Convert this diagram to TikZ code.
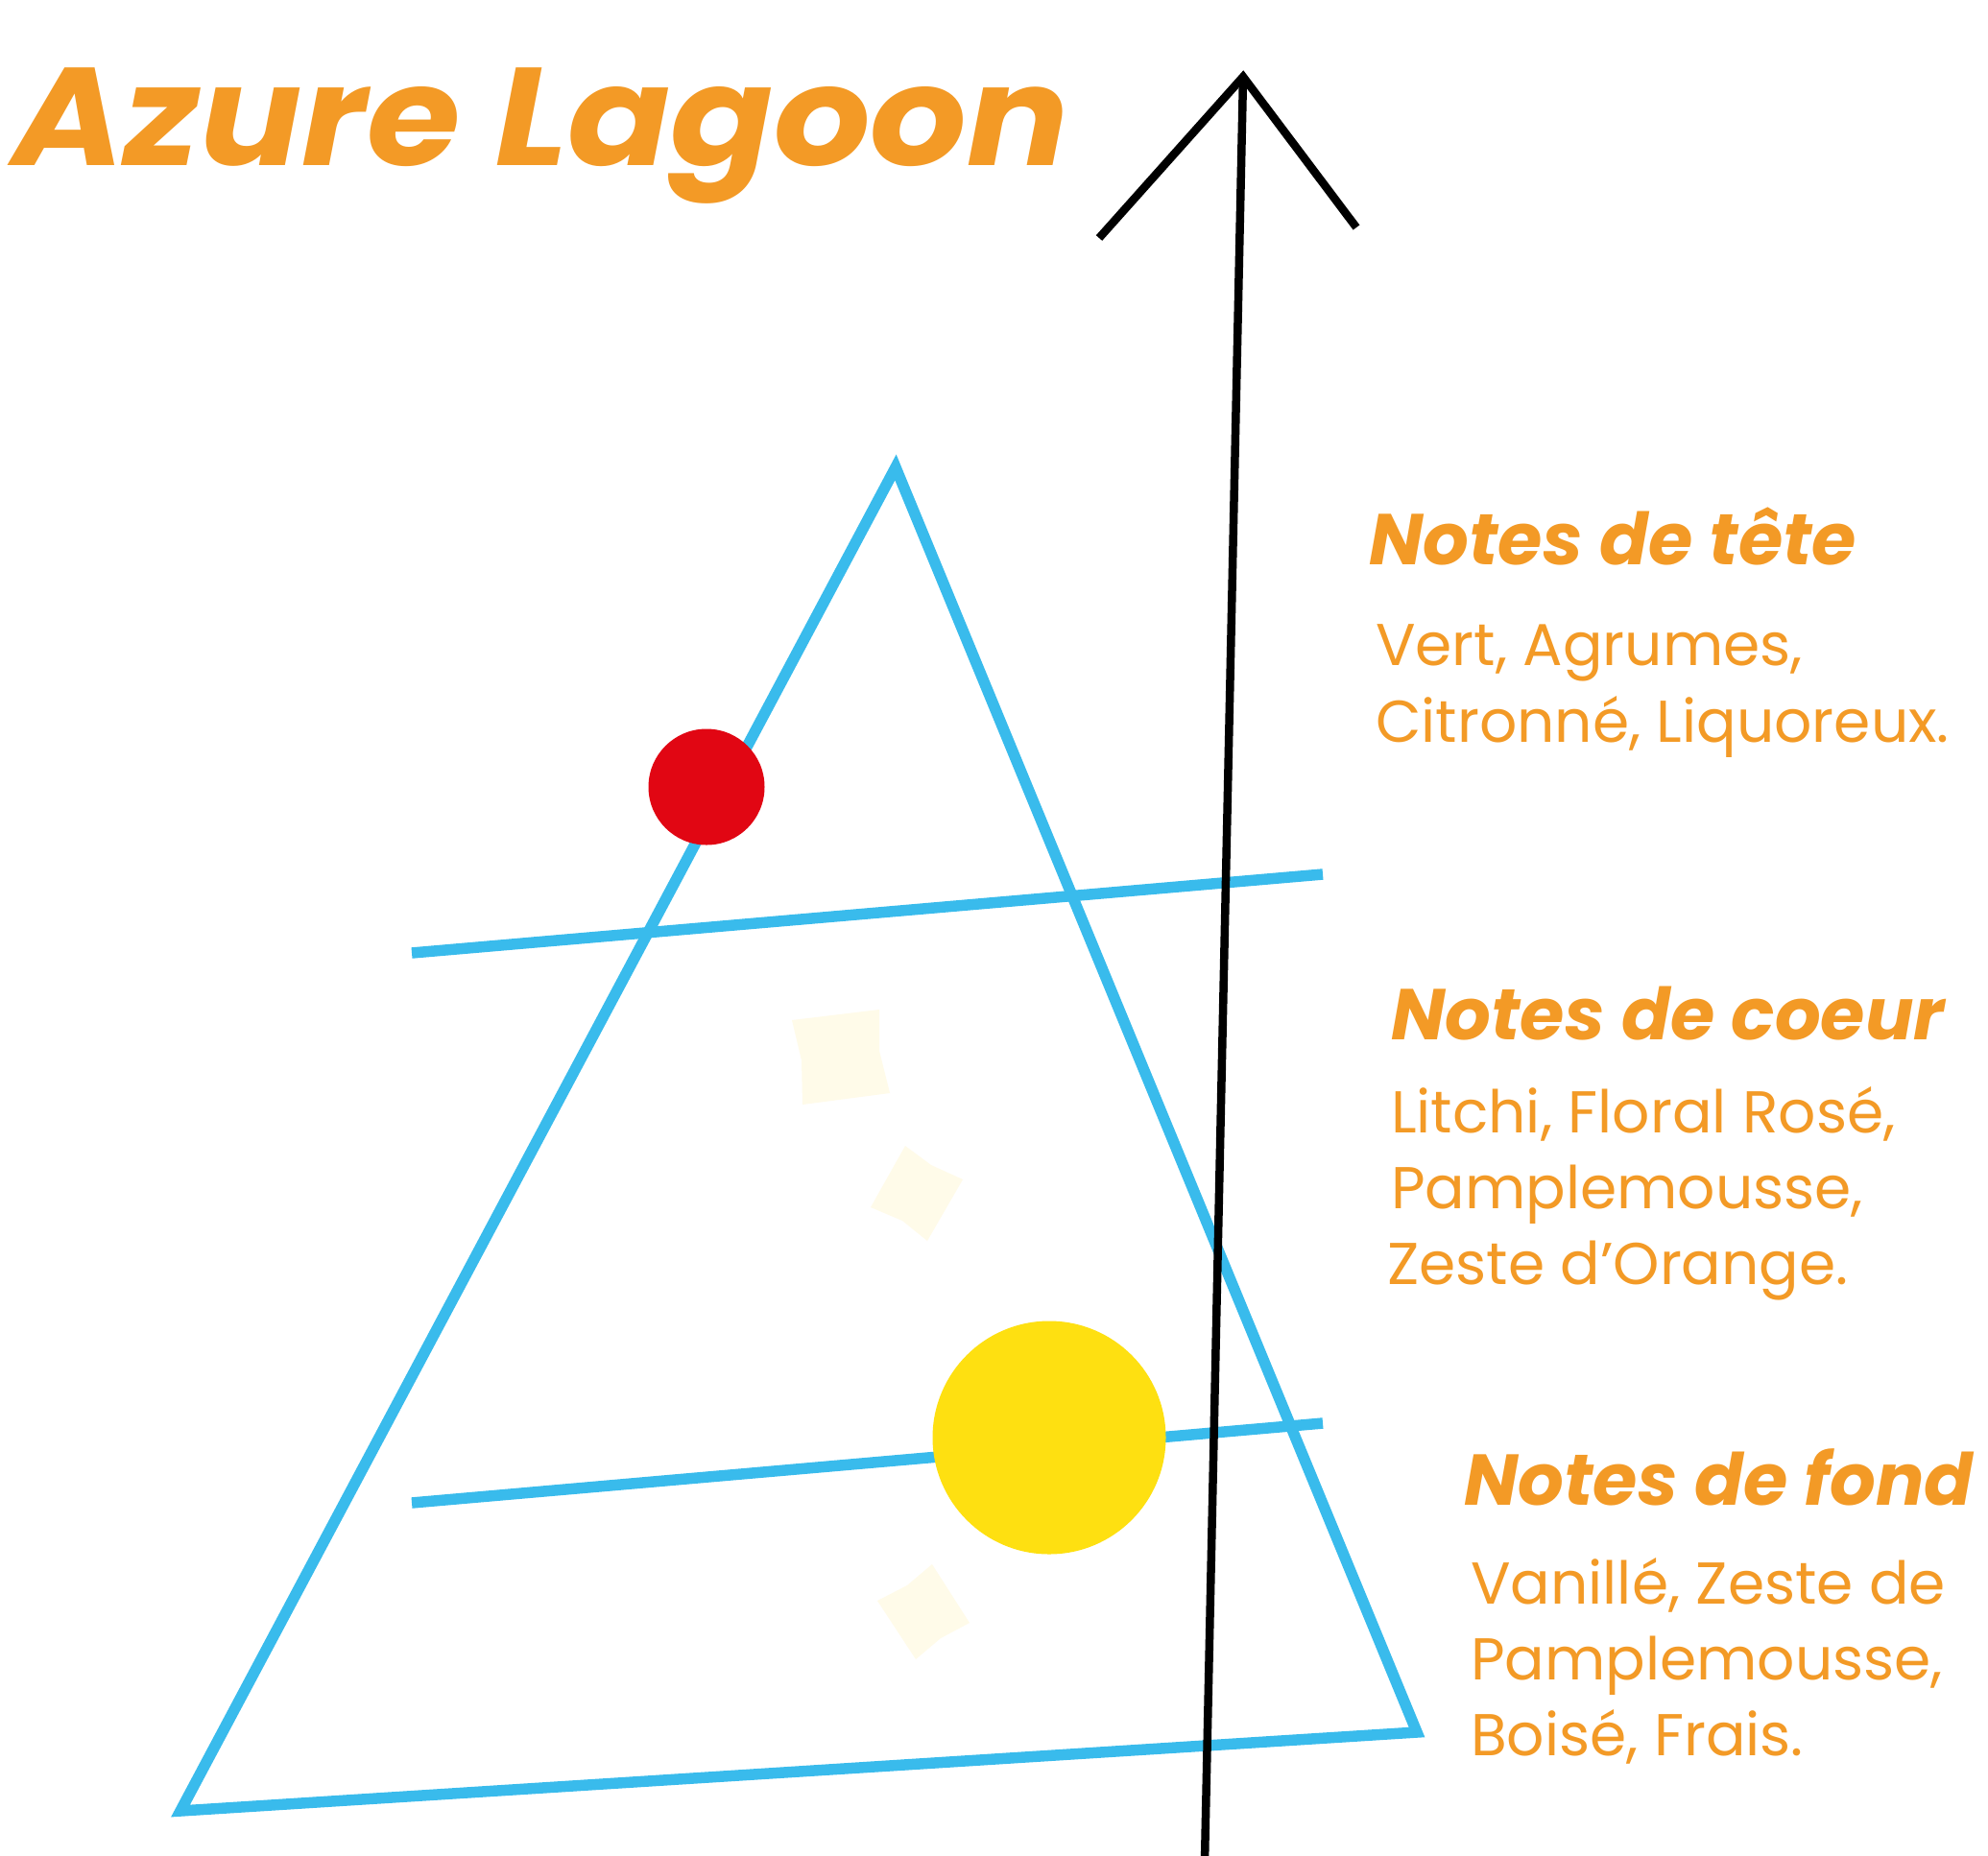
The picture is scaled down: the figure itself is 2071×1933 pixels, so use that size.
\documentclass[tikz,border=0pt]{standalone}
\usepackage{fontspec}
\setmainfont{Poppins}
\definecolor{orng}{HTML}{F39A26}
\definecolor{skyb}{HTML}{39BBEC}
\definecolor{redc}{HTML}{E10613}
\definecolor{yelc}{HTML}{FEE011}
\definecolor{cream}{HTML}{FFFBE9}
\tikzset{
  blueline/.style={draw=skyb, line width=11.5pt, line join=miter},
  blackline/.style={draw=black, line width=8.5pt, line join=miter},
  creambox/.style={fill=cream},
  titletext/.style={text=orng, inner sep=0pt, anchor=base west, font=\fontsize{145}{150}\selectfont\bfseries\itshape},
  headtext/.style={text=orng, inner sep=0pt, anchor=base west, font=\fontsize{75}{80}\selectfont\bfseries\itshape},
  bodytext/.style={text=orng, inner sep=0pt, anchor=base west, font=\fontsize{61.5}{70}\selectfont},
}
\begin{document}
\begin{tikzpicture}[x=1pt,y=-1pt]
\useasboundingbox[fill=white] (0,0) rectangle (2071,1933);
% cream squares
\fill[creambox] (825,1063) -- (916,1052) -- (916,1095) -- (927,1139) -- (836,1151) -- (835,1105) -- cycle;
\fill[creambox] (943,1194) -- (970,1214) -- (1003,1229) -- (966,1293) -- (940,1272) -- (907,1258) -- cycle;
\fill[creambox] (971,1630) -- (1010,1691) -- (980,1707) -- (954,1729) -- (914,1668) -- (945,1652) -- cycle;
% triangle
\coordinate (apex) at (933,487);
\coordinate (bl) at (188,1887);
\coordinate (br) at (1476,1805);
\draw[blueline] (apex) -- (br) -- (bl) -- cycle;
% level lines
\coordinate (l1a) at (429,993);
\coordinate (l1b) at (1378,911);
\coordinate (l2a) at (429,1566);
\coordinate (l2b) at (1378,1483);
\draw[blueline] (l1a) -- (l1b);
\draw[blueline] (l2a) -- (l2b);
% dots
\node[circle, fill=redc, minimum size=121pt, inner sep=0pt] (reddot) at (736,820) {};
\node[circle, fill=yelc, minimum size=243pt, inner sep=0pt] (yeldot) at (1093,1498) {};
% arrow
\coordinate (tip) at (1295,80);
\coordinate (tail) at (1255,1940);
\coordinate (hl) at (1145,248);
\coordinate (hr) at (1413,237);
\draw[blackline] (tail) -- (tip);
\draw[blackline] (hl) -- (tip) -- (hr);
% texts
\node[titletext] (title) at (13,172) {\scalebox{1.09}[1]{Azure Lagoon}};
\node[headtext] (h1) at (1426,588) {Notes de tête};
\node[bodytext] (b1a) at (1433,693) {Vert, Agrumes,};
\node[bodytext] (b1b) at (1433,773) {Citronné, Liquoreux.};
\node[headtext] (h2) at (1449,1083) {Notes de coeur};
\node[bodytext] (b2a) at (1449,1180) {Litchi, Floral Rosé,};
\node[bodytext] (b2b) at (1449,1259) {Pamplemousse,};
\node[bodytext] (b2c) at (1445,1338) {Zeste d’Orange.};
\node[headtext] (h3) at (1525,1568) {Notes de fond};
\node[bodytext] (b3a) at (1532,1671) {Vanillé, Zeste de};
\node[bodytext] (b3b) at (1532,1750) {Pamplemousse,};
\node[bodytext] (b3c) at (1532,1829) {Boisé, Frais.};
\end{tikzpicture}
\end{document}
